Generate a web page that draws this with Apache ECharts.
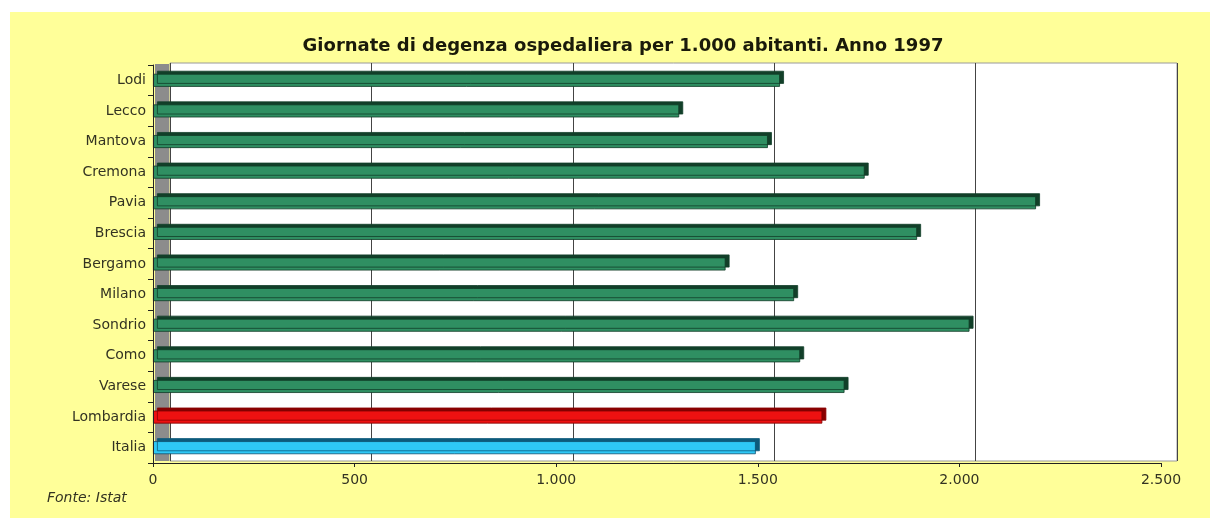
<!DOCTYPE html>
<html>
<head>
<meta charset="utf-8">
<script src="https://cdn.jsdelivr.net/npm/echarts@6/dist/echarts.min.js"></script>
<style>
  html, body { margin: 0; padding: 0; background: #ffffff; }
  #bg { position: absolute; left: 10px; top: 12px; width: 1200px; height: 506px; background: #ffff99; }
  #chart { position: absolute; left: 0; top: 0; width: 1210px; height: 522px; }
</style>
</head>
<body>
<div id="bg"></div>
<div id="chart"></div>
<script>
const titleText = 'Giornate di degenza ospedaliera per 1.000 abitanti. Anno 1997';
const sourceText = 'Fonte: Istat';
const categories = ['Lodi', 'Lecco', 'Mantova', 'Cremona', 'Pavia', 'Brescia', 'Bergamo', 'Milano', 'Sondrio', 'Como', 'Varese', 'Lombardia', 'Italia'];
const values = [1555, 1305, 1525, 1765, 2190, 1895, 1420, 1590, 2025, 1605, 1715, 1660, 1495];
const xTicks = [0, 500, 1000, 1500, 2000, 2500];

function styleFor(name) {
  if (name === 'Lombardia') return { color: '#ee1111', borderColor: '#7a0000', shadowColor: '#8a0000' };
  if (name === 'Italia') return { color: '#2ec8f6', borderColor: '#0b4f6e', shadowColor: '#0c5a7c' };
  return { color: '#2f8f62', borderColor: '#0f3b26', shadowColor: '#123f29' };
}

const seriesData = values.map((v, i) => {
  const s = styleFor(categories[i]);
  return {
    value: v,
    itemStyle: {
      color: s.color,
      borderColor: s.borderColor,
      borderWidth: 0.8,
      shadowColor: s.shadowColor,
      shadowBlur: 0,
      shadowOffsetX: 4,
      shadowOffsetY: -3
    }
  };
});

function fmt(v) {
  return String(v).replace(/\B(?=(\d{3})+(?!\d))/g, '.');
}

const chart = echarts.init(document.getElementById('chart'), null, { renderer: 'canvas' });
chart.setOption({
  backgroundColor: 'transparent',
  animation: false,
  title: [{
    text: titleText,
    left: 618, top: 32, textAlign: 'center',
    textStyle: { fontFamily: 'DejaVu Sans', fontWeight: 'bold', fontSize: 18, color: '#1a1a0a' }
  }, {
    text: sourceText,
    left: 42, top: 486,
    textStyle: { fontFamily: 'DejaVu Sans', fontStyle: 'italic', fontWeight: 'normal', fontSize: 14, color: '#333322' }
  }],
  grid: [
    { left: 170, right: 33, top: 63, bottom: 61, show: true, backgroundColor: '#ffffff', borderColor: '#9a9a9a', borderWidth: 1, containLabel: false },
    { left: 153, right: 49, top: 65, bottom: 59, containLabel: false },
    { left: 155, width: 14, top: 64, bottom: 61, show: true, backgroundColor: '#8c8c8c', borderWidth: 0, containLabel: false }
  ],
  xAxis: [
    { gridIndex: 0, type: 'value', min: 0, max: 2500, interval: 500,
      axisLine: { show: false }, axisTick: { show: false }, axisLabel: { show: false },
      splitLine: { show: true, lineStyle: { color: '#444444', width: 1 } } },
    { gridIndex: 1, type: 'value', min: 0, max: 2500, interval: 500,
      axisLine: { show: true, lineStyle: { color: '#222222', width: 1 } },
      axisTick: { show: true, length: 4, lineStyle: { color: '#222222' } },
      splitLine: { show: false },
      axisLabel: { margin: 10, fontFamily: 'DejaVu Sans', fontSize: 14, color: '#333322', formatter: fmt } },
    { gridIndex: 2, type: 'value', show: false }
  ],
  yAxis: [
    { gridIndex: 0, type: 'category', data: categories, inverse: true,
      axisLine: { show: false }, axisTick: { show: false }, axisLabel: { show: false }, splitLine: { show: false } },
    { gridIndex: 1, type: 'category', data: categories, inverse: true,
      axisLine: { show: true, lineStyle: { color: '#222222', width: 1 } },
      axisTick: { show: true, length: 5, lineStyle: { color: '#222222' } },
      axisLabel: { margin: 7, fontFamily: 'DejaVu Sans', fontSize: 14, color: '#333322' },
      splitLine: { show: false }, z: 5 },
    { gridIndex: 2, type: 'category', show: false }
  ],
  series: [{
    type: 'bar',
    xAxisIndex: 1, yAxisIndex: 1,
    barWidth: 13,
    z: 4,
    data: seriesData
  }]
});
</script>
</body>
</html>
